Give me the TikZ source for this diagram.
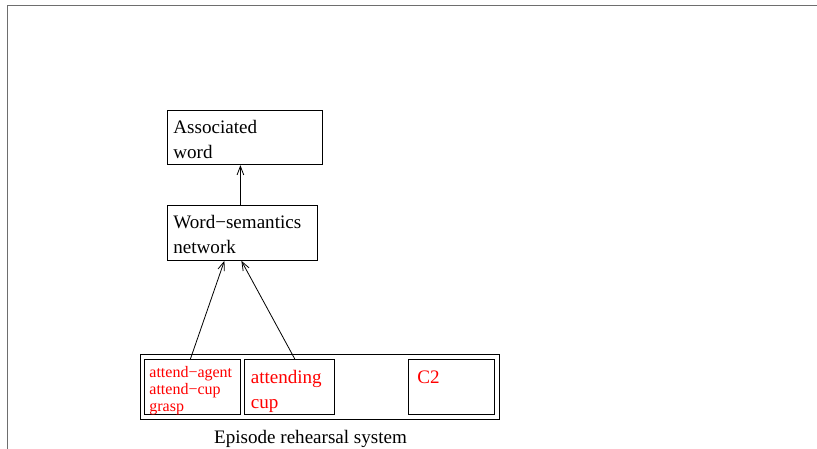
\documentclass[tikz,border=0pt]{standalone}
\usepackage{fontspec}
\setmainfont{Liberation Serif}
\usetikzlibrary{positioning,arrows.meta}
\definecolor{framegray}{HTML}{6E6E6E}
\definecolor{cueRed}{HTML}{FF0000}

\begin{document}
\begin{tikzpicture}[x=0.75pt, y=-0.75pt,
    box/.style={rectangle, draw=black, line width=0.6pt, font=\fontsize{14.3}{18.75}\selectfont, inner xsep=4.5pt, inner ysep=0pt, align=left, anchor=north west, text height=17.5pt, text depth=23.25pt},
    slotBox/.style={box, text=cueRed, text height=18.25pt, text depth=23pt},
    smallSlot/.style={slotBox, font=\fontsize{12}{12.5}\selectfont, inner xsep=3.75pt, text height=13.75pt, text depth=27.5pt},
    frameBox/.style={rectangle, draw=black, line width=0.6pt, inner sep=0pt, anchor=north west},
    frameLine/.style={draw=framegray, line width=1.3pt},
    flowArrow/.style={-{Straight Barb[length=6.5pt, width=5pt]}, line width=0.6pt}
]
    \useasboundingbox (0,0) rectangle (817,449);
    \draw[frameLine] (817,5.5) -- (7.5,5.5) -- (7.5,449);

    % Node 1: Associated word
    \node[box, text width=107.25pt] (assoc) at (167,110) {Associated\\word};

    % Node 2: Word-semantics network
    \node[box, text width=103.5pt, text height=17.25pt, text depth=24pt] (wordnet) at (167,205) {Word−semantics\\network};

    % Episode rehearsal system and its slots
    \node[frameBox, minimum width=269.25pt, minimum height=48.75pt] (episode) at (140,354) {};
    \node[smallSlot, text width=64.5pt] (actions) at (144,359) {attend−agent\\attend−cup\\grasp};
    \node[slotBox, text width=58.5pt, right=2.7pt of actions.north east, anchor=north west] (attcup) {attending\\cup};
    \node[slotBox, text width=51pt, inner xsep=6.75pt] (ctwo) at (408,359) {C2};
    \node[font=\fontsize{14.3}{18.75}\selectfont, inner sep=0pt, below=7.3pt of episode, xshift=-7pt] (episodeLabel) {Episode rehearsal system};

    % Forward Arrows
    \draw[flowArrow] ([xshift=-1.5pt]wordnet.north) -- ([xshift=-1.5pt]wordnet.north |- assoc.south);
    \draw[flowArrow] ([xshift=-1.5pt]actions.north) -- ([xshift=-13.5pt]wordnet.south);
    \draw[flowArrow] ([xshift=3.75pt]attcup.north) -- ([xshift=-0.75pt]wordnet.south);

\end{tikzpicture}
\end{document}
